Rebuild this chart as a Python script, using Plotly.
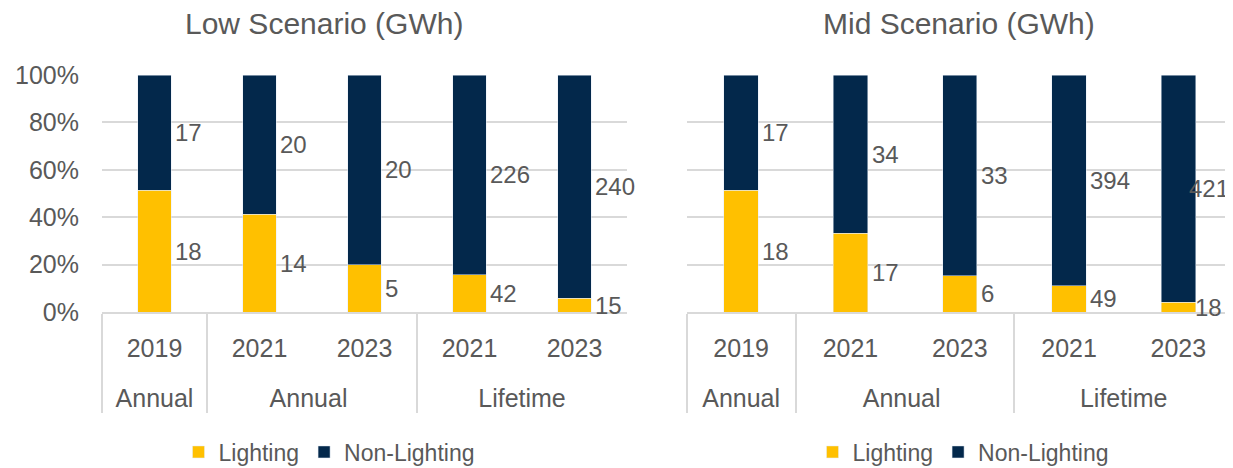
import plotly.graph_objects as go

# ---- data ----
years = ["2019", "2021", "2023", "2021", "2023"]
periods = ["Annual", "Annual ", "Annual ", "Lifetime", "Lifetime"]
low_lighting = [18, 14, 5, 42, 15]
low_non_lighting = [17, 20, 20, 226, 240]
mid_lighting = [18, 17, 6, 49, 18]
mid_non_lighting = [17, 34, 33, 394, 421]
titles = ["Low Scenario (GWh)", "Mid Scenario (GWh)"]
series_names = ["Lighting", "Non-Lighting"]

# ---- style ----
YELLOW = "#FFC000"
NAVY = "#03284B"
TXT = "#595959"
GRID = "#D9D9D9"
FONT = "Liberation Sans, Arial, sans-serif"
BAR_W = 0.315
OFF = 8  # page body margin
W, H = 1233 - OFF, 468 - OFF
PLOT_TOP, PLOT_BOT = 75 - OFF, 312 - OFF
PH = PLOT_BOT - PLOT_TOP


def py(pix):
    return (PLOT_BOT - (pix - OFF)) / PH


def px(pix):
    return (pix - OFF) / W


fig = go.Figure()

panels = [
    (low_lighting, low_non_lighting, "x", "y", "x3", "legend"),
    (mid_lighting, mid_non_lighting, "x2", "y2", "x4", "legend2"),
]

group_labels = ["<br>" + p for p in periods]

for pi, (light, non, xa, ya, xo, leg) in enumerate(panels):
    xcat = [group_labels, years]
    fig.add_trace(go.Bar(x=xcat, y=light, name=series_names[0], marker_color=YELLOW,
                         xaxis=xa, yaxis=ya, legend=leg, width=BAR_W, hoverinfo="skip"))
    fig.add_trace(go.Bar(x=xcat, y=non, name=series_names[1], marker_color=NAVY,
                         xaxis=xa, yaxis=ya, legend=leg, width=BAR_W, hoverinfo="skip"))
    tot = [a + b for a, b in zip(light, non)]
    for i, (a, b, t) in enumerate(zip(light, non, tot)):
        last_right = (pi == 1 and i == len(years) - 1)
        for k, (val, ymid) in enumerate(((a, 100 * a / t / 2), (b, 100 * (a + b / 2) / t))):
            shift = 2
            if last_right:
                shift = -9 if k == 1 else -3
            fig.add_annotation(x=i + BAR_W / 2, y=ymid, xref=xo, yref=ya,
                               text=str(val), showarrow=False, xanchor="left",
                               yanchor="middle", xshift=shift,
                               font=dict(size=24, color=TXT, family=FONT))

d1 = [px(102), px(627)]
d2 = [px(686.5), 1.0]
ydom = [0, 1]

axis_common_x = dict(
    type="multicategory", showline=True, linecolor=GRID, linewidth=2,
    showgrid=False, showdividers=True, dividercolor=GRID, dividerwidth=2,
    tickfont=dict(size=25, color=TXT, family=FONT), range=[-0.5, 4.5],
    ticks="", automargin=False, ticklabelstandoff=13, fixedrange=True,
)
axis_common_y = dict(
    range=[0, 100], dtick=20, ticksuffix="%", gridcolor=GRID, gridwidth=2,
    showline=False, zeroline=False, tickfont=dict(size=25, color=TXT, family=FONT),
    fixedrange=True, automargin=False,
)

fig.update_layout(
    barmode="stack",
    barnorm="percent",
    width=W, height=H,
    margin=dict(l=0, r=0, t=PLOT_TOP, b=H - PLOT_BOT, autoexpand=False),
    paper_bgcolor="white", plot_bgcolor="white",
    font=dict(family=FONT, color=TXT),
    xaxis=dict(domain=d1, anchor="y", **axis_common_x),
    xaxis2=dict(domain=d2, anchor="y2", **axis_common_x),
    xaxis3=dict(domain=d1, anchor="y", overlaying="x", range=[-0.5, 4.5], visible=False,
                fixedrange=True),
    xaxis4=dict(domain=d2, anchor="y2", overlaying="x2", range=[-0.5, 4.5], visible=False,
                fixedrange=True),
    yaxis=dict(domain=ydom, anchor="x", ticklabelstandoff=22, **axis_common_y),
    yaxis2=dict(domain=ydom, anchor="x2", showticklabels=False, **axis_common_y),
    legend=dict(orientation="h", x=px(329), xanchor="center", y=py(452),
                yanchor="middle", font=dict(size=23, color=TXT, family=FONT),
                traceorder="normal", itemwidth=30),
    legend2=dict(orientation="h", x=px(963), xanchor="center", y=py(452),
                 yanchor="middle", font=dict(size=23, color=TXT, family=FONT),
                 traceorder="normal", itemwidth=30),
    showlegend=True,
)

fig.add_annotation(text=titles[0], x=px(324), y=py(23), xref="paper", yref="paper",
                   showarrow=False, font=dict(size=30, color=TXT, family=FONT),
                   xanchor="center", yanchor="middle")
fig.add_annotation(text=titles[1], x=px(959), y=py(23), xref="paper", yref="paper",
                   showarrow=False, font=dict(size=30, color=TXT, family=FONT),
                   xanchor="center", yanchor="middle")

fig.write_html("out.html")
